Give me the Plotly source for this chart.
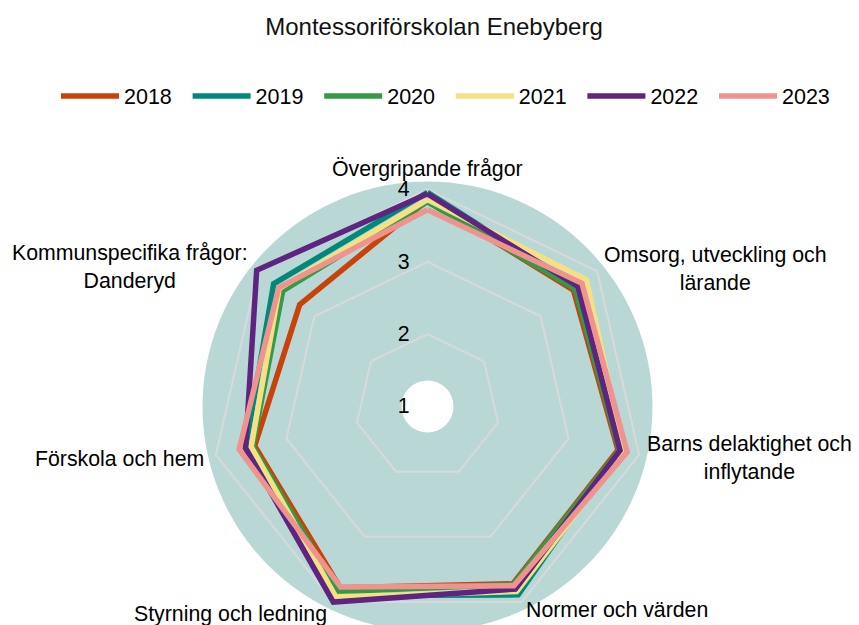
import math
import plotly.graph_objects as go

title = "Montessoriförskolan Enebyberg"
categories = [
    "Övergripande frågor",
    "Omsorg, utveckling och<br>lärande",
    "Barns delaktighet och<br>inflytande",
    "Normer och värden",
    "Styrning och ledning",
    "Förskola och hem",
    "Kommunspecifika frågor:<br>Danderyd",
]
years = ["2018", "2019", "2020", "2021", "2022", "2023"]
v2018 = [3.85, 3.58, 3.70, 3.72, 3.78, 3.45, 3.26]
v2019 = [3.96, 3.64, 3.72, 3.89, 3.90, 3.58, 3.72]
v2020 = [3.83, 3.61, 3.72, 3.73, 3.84, 3.48, 3.56]
v2021 = [3.86, 3.81, 3.78, 3.84, 3.92, 3.50, 3.62]
v2022 = [3.94, 3.66, 3.73, 3.80, 4.00, 3.58, 4.02]
v2023 = [3.72, 3.73, 3.83, 3.75, 3.77, 3.67, 3.63]
series = [v2018, v2019, v2020, v2021, v2022, v2023]
colors = ["#C84309", "#00897B", "#339A47", "#F5E085", "#5E2580", "#EE938D"]
radial_ticks = [1, 2, 3, 4]

W, H = 859, 625
FONT = "Liberation Sans, Arial, sans-serif"
FS = 21.3

# polar geometry (figure pixels)
cx, cy = 419.5, 398.5
R = 225
RMIN, RMAX = 1, 4.11

fig = go.Figure()

for name, vals, col in zip(years, series, colors):
    fig.add_trace(go.Scatterpolar(
        r=vals + [vals[0]], theta=categories + [categories[0]],
        mode="lines", name=name,
        line=dict(color=col, width=5.5),
    ))

# circular background and white centre
fig.add_shape(type="circle", xref="paper", yref="paper",
              xsizemode="pixel", ysizemode="pixel",
              xanchor=cx / W, yanchor=1 - cy / H,
              x0=-R, x1=R, y0=-R, y1=R,
              fillcolor="#B9D8D5", line=dict(width=0), layer="below")
fig.add_shape(type="circle", xref="paper", yref="paper",
              xsizemode="pixel", ysizemode="pixel",
              xanchor=cx / W, yanchor=1 - cy / H,
              x0=-26, x1=26, y0=-26, y1=26,
              fillcolor="white", line=dict(width=0), layer="below")

# category labels around the circle
n = len(categories)
for i, cat in enumerate(categories):
    ang = math.radians(90 - i * 360 / n)
    c, s = math.cos(ang), math.sin(ang)
    if abs(c) < 0.1:
        pad = 2
    elif c > 0:
        pad = -2
    else:
        pad = 2
    px = cx + (R + pad) * c
    py = cy - (R + pad) * s
    if abs(c) < 0.1:
        xa, ya = "center", "bottom"
        py += 3
    else:
        xa = "left" if c > 0 else "right"
        ya = "middle"
        py += 3 if s < -0.5 else 2
    fig.add_annotation(text=cat, x=px / W, y=1 - py / H, xref="paper", yref="paper",
                       xanchor=xa, yanchor=ya, align="center", showarrow=False,
                       font=dict(size=FS, color="#000000"))

fig.update_layout(
    width=W, height=H,
    margin=dict(l=0, r=0, t=0, b=0),
    paper_bgcolor="white", plot_bgcolor="white",
    font=dict(family=FONT, size=FS, color="#000000"),
    title=dict(text=title, x=426 / W, xanchor="center", y=1 - 19 / H, yanchor="middle",
               yref="container", font=dict(size=24, color="#111111")),
    showlegend=True,
    legend=dict(orientation="h", x=48 / W, xanchor="left", y=1 - 88 / H, yanchor="middle",
                font=dict(size=21.5), itemwidth=58, entrywidth=58.6, entrywidthmode="pixels",
                bgcolor="rgba(0,0,0,0)"),
    polar=dict(
        domain=dict(x=[0, 2 * cx / W], y=[(H - (cy + R)) / H, (H - (cy - R)) / H]),
        bgcolor="rgba(0,0,0,0)",
        gridshape="linear",
        radialaxis=dict(range=[RMIN, RMAX], tickvals=radial_ticks, angle=90,
                        side="counterclockwise", showline=False,
                        ticks="outside", ticklen=10, tickcolor="rgba(0,0,0,0)",
                        gridcolor="#D9D9D9", gridwidth=1.5,
                        tickfont=dict(size=FS), tickangle=90),
        angularaxis=dict(direction="clockwise", rotation=90, showline=False,
                         showgrid=False, showticklabels=False, ticks="",
                         categoryarray=categories, categoryorder="array"),
    ),
)

fig.write_html("out.html")
